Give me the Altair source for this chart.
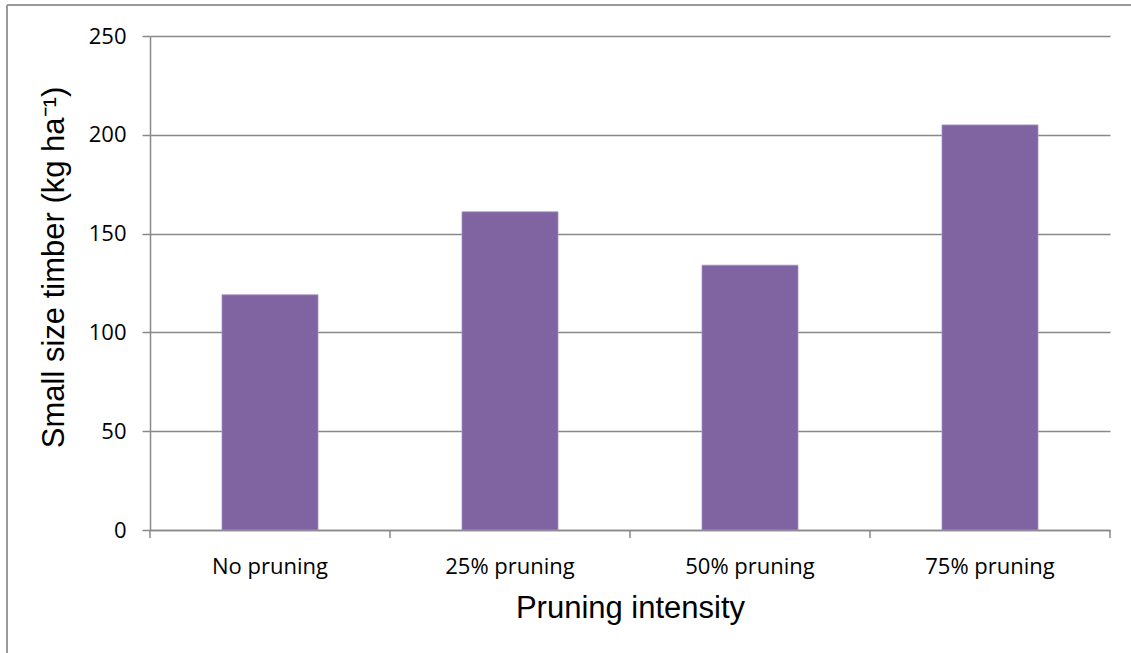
import altair as alt
import pandas as pd

# Small size timber yield by pruning intensity
categories = ["No pruning", "25% pruning", "50% pruning", "75% pruning"]
timber = [119, 161, 134, 205]
y_ticks = [0, 50, 100, 150, 200, 250]
# Category boundaries (in band steps) where the x-axis ticks sit
band_edges = [0, 1, 2, 3, 4]

df = pd.DataFrame({"intensity": categories, "timber": timber})
edges_df = pd.DataFrame({"edge": band_edges})

GRAY = "#898989"
PURPLE = "#8064A2"

bars = alt.Chart(df).mark_bar(color=PURPLE, stroke="#A590C0", strokeWidth=0.8).encode(
    x=alt.X(
        "intensity:N",
        sort=categories,
        scale=alt.Scale(paddingInner=0.6, paddingOuter=0.3),
        axis=alt.Axis(
            title="Pruning intensity",
            titleFont="Liberation Sans",
            titleFontSize=31,
            titleFontWeight="normal",
            titleColor="#000000",
            titleBaseline="alphabetic",
            titleY=87,
            labelAngle=0,
            labelFont="Open Sans",
            labelFontSize=22,
            labelColor="#000000",
            labelBaseline="alphabetic",
            labelPadding=43,
            ticks=False,
            domainColor=GRAY,
            domainWidth=1.5,
            grid=False,
        ),
    ),
    y=alt.Y(
        "timber:Q",
        scale=alt.Scale(domain=[0, 250], nice=False),
        axis=alt.Axis(
            title="Small size timber (kg ha\u207b\u00b9)",
            titleFont="Liberation Sans",
            titleFontSize=31,
            titleFontWeight="normal",
            titleColor="#000000",
            titleAngle=270,
            titleAlign="center",
            titleBaseline="middle",
            titleX=-96,
            titleY=231,
            values=y_ticks,
            labelFont="Open Sans",
            labelFontSize=22,
            labelColor="#000000",
            labelPadding=16,
            tickSize=8,
            tickColor=GRAY,
            tickWidth=1.5,
            domainColor=GRAY,
            domainWidth=1.5,
            grid=True,
            gridColor=GRAY,
            gridWidth=1.5,
        ),
    ),
)

# Tick marks at the category boundaries below the x axis
edge_ticks = alt.Chart(edges_df).mark_rule(color=GRAY, strokeWidth=1.5).encode(
    x=alt.X("edge:Q", scale=alt.Scale(domain=[0, 4], nice=False, zero=False), axis=None),
    y=alt.value(494),
    y2=alt.value(502),
)

# Outer frame around the whole figure (top and left edges)
frame_top = alt.Chart(df).mark_rule(color="#999999", strokeWidth=2).encode(
    x=alt.value(-143), x2=alt.value(990), y=alt.value(-31)
)
frame_left = alt.Chart(df).mark_rule(color="#999999", strokeWidth=2).encode(
    x=alt.value(-143), y=alt.value(-31), y2=alt.value(640)
)

chart = (
    alt.layer(bars, edge_ticks, frame_top, frame_left)
    .resolve_scale(x="independent")
    .properties(
        width=960,
        height=494,
        autosize=alt.AutoSizeParams(type="none"),
        padding={"left": 150, "top": 36, "right": 21, "bottom": 123},
        background="#ffffff",
    )
    .configure_view(stroke=None)
)

chart.save("out.html", embed_options={"renderer": "svg", "actions": False})
